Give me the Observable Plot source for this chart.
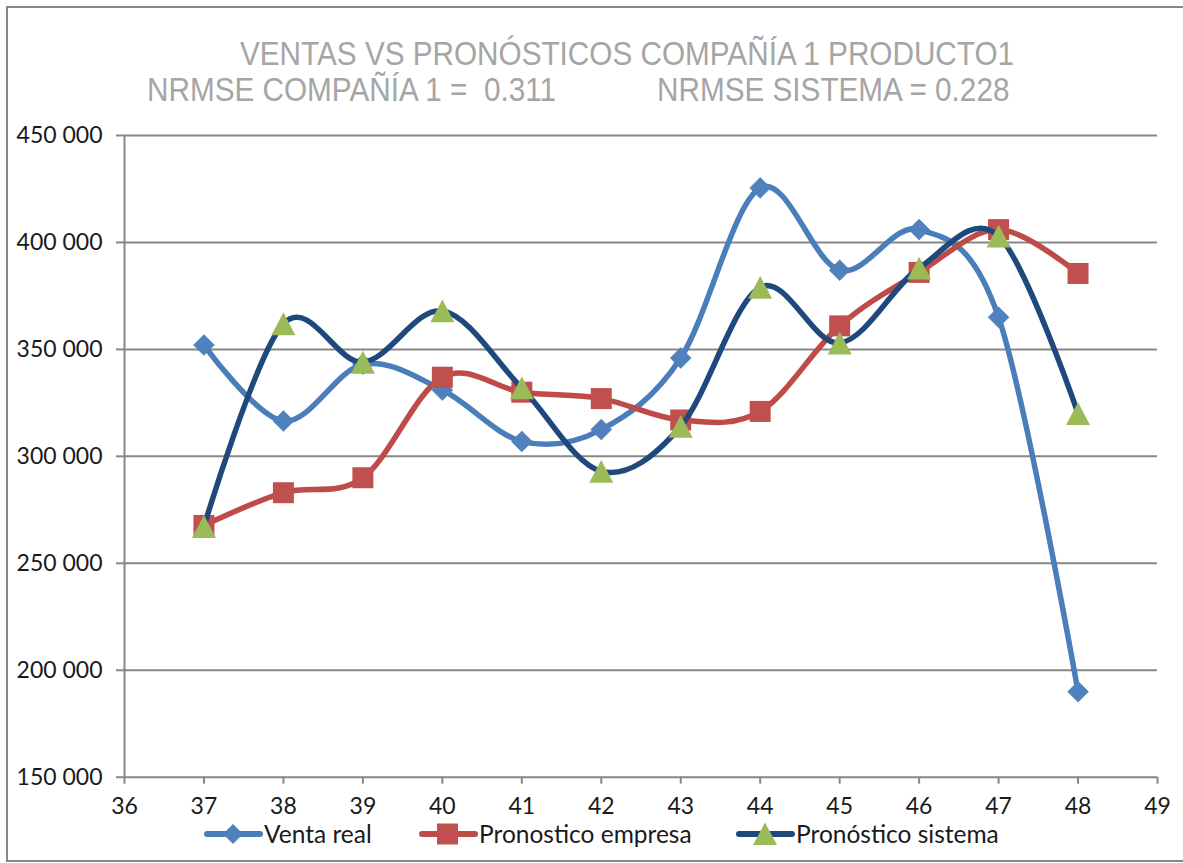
<!DOCTYPE html>
<html>
<head>
<meta charset="utf-8">
<script src="https://cdn.jsdelivr.net/npm/d3@7"></script>
<script src="https://cdn.jsdelivr.net/npm/@observablehq/plot@0.6"></script>
<style>
  body { margin: 0; background: #fff; }
  #wrap { position: relative; width: 1183px; height: 863px; overflow: hidden; background: #fff; }
  #frame { position: absolute; left: 6px; top: 6px; width: 1200px; height: 856px; border: 2.5px solid #878787; border-right: none; box-sizing: border-box; }
  .title { position: absolute; font-family: "Liberation Sans Narrow", "Liberation Sans", Arial, sans-serif; color: #a5a5a5; font-size: 33px; white-space: pre; line-height: 1; transform: scaleX(0.9); transform-origin: 0 50%; }
  #chart { position: absolute; left: 0; top: 110px; }
  .leg { position: absolute; top: 820px; height: 28px; display: flex; align-items: center; font-family: Lato, "Open Sans", sans-serif; font-size: 24.5px; line-height: 1; color: #1a1a1a; white-space: pre; }
  .leg svg { display: block; }
</style>
</head>
<body>
<div id="wrap">
  <div id="frame"></div>
  <div class="title" id="t1"></div>
  <div class="title" id="t2a"></div>
  <div class="title" id="t2b"></div>
  <div id="chart"></div>
  <div id="legend"></div>
</div>
<script>
// ---- data ----
const weeks = [37, 38, 39, 40, 41, 42, 43, 44, 45, 46, 47, 48];
const ventaReal   = [352000, 316500, 343000, 331000, 307000, 312500, 346000, 425500, 387000, 406000, 365000, 190000];
const pronEmpresa = [267700, 283000, 290000, 337000, 330000, 327000, 317000, 321000, 361000, 386000, 406000, 385500];
const pronSistema = [267200, 362000, 344000, 368000, 332000, 293000, 314000, 379000, 353000, 388000, 403000, 320000];
const seriesNames = ["Venta real", "Pronostico empresa", "Pronóstico sistema"];
const xTicks = [36, 37, 38, 39, 40, 41, 42, 43, 44, 45, 46, 47, 48, 49];
const yTicks = [150000, 200000, 250000, 300000, 350000, 400000, 450000];
const titleLine1 = "VENTAS VS PRONÓSTICOS COMPAÑÍA 1 PRODUCTO1";
const titleLine2a = "NRMSE COMPAÑÍA 1 =  0.311";
const titleLine2b = "NRMSE SISTEMA = 0.228";

// ---- styles ----
const cBlueLine = "#4a7ebb", cBlueMark = "#4f81bd";
const cRedLine = "#be4b48", cRedMark = "#c0504d";
const cNavy = "#1f497d", cGreen = "#9bbb59";
const gridColor = "#878787";

// custom symbols: sqrt(size) = bounding box width
const diamondSym = { draw(ctx, size) { const h = Math.sqrt(size) / 2; ctx.moveTo(0, -h); ctx.lineTo(h, 0); ctx.lineTo(0, h); ctx.lineTo(-h, 0); ctx.closePath(); } };
const squareSym  = { draw(ctx, size) { const h = Math.sqrt(size) / 2; ctx.rect(-h, -h, 2 * h, 2 * h); } };
const triSym     = { draw(ctx, size) { const w = Math.sqrt(size) / 2, hh = w * 0.95; ctx.moveTo(0, -hh); ctx.lineTo(w, hh); ctx.lineTo(-w, hh); ctx.closePath(); } };
const rFor = w => w / Math.sqrt(Math.PI);

const fmt = d => d3.format(",")(d).replace(/,/g, " ");
const tickFont = "Lato, 'Open Sans', sans-serif";

const plot = Plot.plot({
  width: 1183,
  height: 710,
  marginLeft: 124,
  marginRight: 26,
  marginTop: 25,
  marginBottom: 43.3,
  style: { background: "transparent", fontFamily: tickFont, fontSize: "23px", color: "#1a1a1a", overflow: "visible" },
  x: { domain: [36, 49], label: null },
  y: { domain: [150000, 450000], label: null },
  marks: [
    Plot.gridY(yTicks, { stroke: gridColor, strokeOpacity: 1, strokeWidth: 2 }),
    Plot.ruleX([36], { stroke: gridColor, strokeWidth: 2 }),
    Plot.axisY({ ticks: yTicks, tickSize: 8, tickPadding: 14, tickFormat: fmt, stroke: gridColor, strokeWidth: 2, strokeOpacity: 1, fill: "#1a1a1a", label: null, fontSize: 23 }),
    Plot.axisX({ ticks: xTicks, tickSize: 7, tickPadding: 15, tickFormat: d => String(d), stroke: gridColor, strokeWidth: 2, strokeOpacity: 1, fill: "#1a1a1a", label: null, fontSize: 23, lineHeight: 0.9 }),
    // Venta real
    Plot.line(ventaReal, { x: weeks, y: ventaReal, curve: "cardinal", stroke: cBlueLine, strokeWidth: 5.5, strokeLinecap: "round", strokeLinejoin: "round" }),
    Plot.dot(ventaReal, { x: weeks, y: ventaReal, symbol: diamondSym, r: rFor(21), fill: cBlueMark, stroke: cBlueMark, strokeWidth: 0.5 }),
    // Pronostico empresa
    Plot.line(pronEmpresa, { x: weeks, y: pronEmpresa, curve: "cardinal", stroke: cRedLine, strokeWidth: 5.5, strokeLinecap: "round", strokeLinejoin: "round" }),
    Plot.dot(pronEmpresa, { x: weeks, y: pronEmpresa, symbol: squareSym, r: rFor(21), fill: cRedMark, stroke: "none" }),
    // Pronostico sistema
    Plot.line(pronSistema, { x: weeks, y: pronSistema, curve: "cardinal", stroke: cNavy, strokeWidth: 5.5, strokeLinecap: "round", strokeLinejoin: "round" }),
    Plot.dot(pronSistema, { x: weeks, y: pronSistema, symbol: triSym, r: rFor(24), fill: cGreen, stroke: "none" })
  ]
});
document.getElementById("chart").appendChild(plot);

// ---- titles ----
const t1 = document.getElementById("t1");
t1.textContent = titleLine1; t1.style.left = "240px"; t1.style.top = "37px";
const t2a = document.getElementById("t2a");
t2a.textContent = titleLine2a; t2a.style.left = "147px"; t2a.style.top = "73px";
const t2b = document.getElementById("t2b");
t2b.textContent = titleLine2b; t2b.style.left = "657px"; t2b.style.top = "73px";

// ---- legend ----
const legendDefs = [
  { name: seriesNames[0], line: cBlueLine, mark: cBlueMark, sym: "diamond", left: 204 },
  { name: seriesNames[1], line: cRedLine, mark: cRedMark, sym: "square", left: 419 },
  { name: seriesNames[2], line: cNavy, mark: cGreen, sym: "triangle", left: 736 }
];
const legend = document.getElementById("legend");
legendDefs.forEach(d => {
  const item = document.createElement("div");
  item.className = "leg";
  item.style.left = d.left + "px";
  let m = "";
  if (d.sym === "diamond") m = `<path d="M29,4 L39,14 L29,24 L19,14 Z" fill="${d.mark}"/>`;
  if (d.sym === "square") m = `<rect x="18" y="3.5" width="21" height="21" fill="${d.mark}"/>`;
  if (d.sym === "triangle") m = `<path d="M29,2.5 L41,25 L17,25 Z" fill="${d.mark}"/>`;
  item.innerHTML = `<svg width="60" height="28"><line x1="3" y1="14" x2="56" y2="14" stroke="${d.line}" stroke-width="6" stroke-linecap="round"/>${m}</svg><span>${d.name}</span>`;
  legend.appendChild(item);
});
</script>
</body>
</html>
